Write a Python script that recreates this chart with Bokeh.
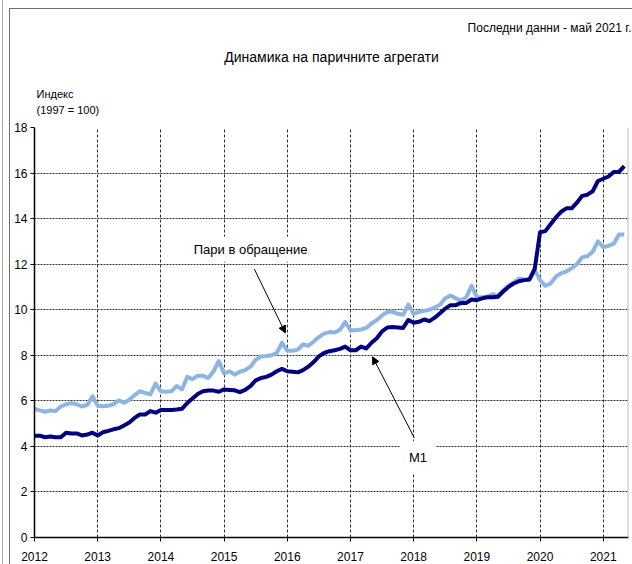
from bokeh.plotting import figure
from bokeh.models import Range1d, FixedTicker, Label, Arrow, NormalHead, Span, Title
from bokeh.embed import file_html
from bokeh.resources import INLINE

# ---- data (index, 1997 = 100), monthly Jan 2012 .. May 2021 ----
start_year = 2012
m1 = [
    4.47, 4.47, 4.40, 4.43, 4.40, 4.40, 4.60, 4.57, 4.57, 4.48, 4.52, 4.60,
    4.48, 4.62, 4.68, 4.75, 4.80, 4.92, 5.05, 5.25, 5.40, 5.40, 5.55, 5.48,
    5.60, 5.60, 5.60, 5.62, 5.65, 5.90, 6.10, 6.30, 6.42, 6.45, 6.45, 6.40,
    6.50, 6.48, 6.46, 6.38, 6.48, 6.65, 6.90, 7.00, 7.05, 7.15, 7.30, 7.40,
    7.30, 7.28, 7.25, 7.35, 7.50, 7.70, 7.95, 8.10, 8.18, 8.22, 8.28, 8.38,
    8.22, 8.22, 8.38, 8.30, 8.55, 8.75, 9.05, 9.22, 9.24, 9.22, 9.20, 9.55,
    9.43, 9.47, 9.57, 9.50, 9.65, 9.85, 10.05, 10.20, 10.20, 10.30, 10.30, 10.45,
    10.42, 10.50, 10.55, 10.55, 10.57, 10.80, 11.00, 11.15, 11.25, 11.30, 11.33, 11.80,
    13.40, 13.45, 13.75, 14.05, 14.30, 14.45, 14.45, 14.70, 15.00, 15.05, 15.20, 15.65,
    15.75, 15.85, 16.05, 16.05, 16.30,
]
currency = [
    5.65, 5.58, 5.52, 5.58, 5.55, 5.75, 5.85, 5.90, 5.85, 5.75, 5.82, 6.20,
    5.78, 5.76, 5.78, 5.85, 6.02, 5.92, 6.05, 6.25, 6.42, 6.35, 6.28, 6.76,
    6.42, 6.40, 6.42, 6.65, 6.50, 7.05, 6.95, 7.10, 7.10, 7.00, 7.30, 7.75,
    7.20, 7.30, 7.15, 7.28, 7.35, 7.50, 7.80, 7.95, 7.97, 8.00, 8.10, 8.55,
    8.20, 8.20, 8.25, 8.48, 8.42, 8.60, 8.80, 8.95, 9.02, 9.00, 9.12, 9.46,
    9.10, 9.10, 9.13, 9.20, 9.40, 9.55, 9.75, 9.90, 9.92, 9.82, 9.78, 10.22,
    9.82, 9.90, 9.95, 10.00, 10.10, 10.22, 10.50, 10.62, 10.50, 10.40, 10.55, 11.05,
    10.55, 10.55, 10.58, 10.68, 10.60, 10.85, 11.05, 11.20, 11.37, 11.33, 11.33, 11.75,
    11.30, 11.05, 11.15, 11.45, 11.60, 11.68, 11.82, 12.00, 12.30, 12.35, 12.55, 13.00,
    12.75, 12.80, 12.90, 13.30, 13.30,
]
year_ticks = [2012, 2013, 2014, 2015, 2016, 2017, 2018, 2019, 2020, 2021]
y_ticks = [0, 2, 4, 6, 8, 10, 12, 14, 16, 18]

title_text = "Динамика на паричните агрегати"
note_text = "Последни данни - май 2021 г."
unit_text = "Индекс\n(1997 = 100)"
label_currency = "Пари в обращение"
label_m1 = "M1"

x = [start_year + i / 12 for i in range(len(m1))]

FONT = "Liberation Sans"
NAVY = "#000080"
LIGHT = "#8DB4E2"
X_END = 2021.4

p = figure(width=632, height=564, output_backend="svg", toolbar_location=None,
           x_range=Range1d(2012, X_END), y_range=Range1d(0, 18),
           min_border_left=34, min_border_right=4, min_border_top=0,
           min_border_bottom=27, border_fill_color=None,
           background_fill_color="white", outline_line_color=None,
           title=" ", title_location="above")
p.styles = {
    "background-image": "linear-gradient(#707070, #707070), linear-gradient(#707070, #707070), linear-gradient(#a8a8a8, #a8a8a8)",
    "background-size": "calc(100% - 9px) 1px, 1px calc(100% - 8px), 1px 100%",
    "background-position": "9px 8px, 9px 8px, 2px 0px",
    "background-repeat": "no-repeat",
}

# top spacer (plot title slot)
p.title.text_font = FONT
p.title.text_font_size = "12px"
p.title.standoff = 0

# stacked texts above the frame (first added = nearest to the frame)
p.add_layout(Title(text=unit_text, align="left", offset=2, standoff=23,
                   text_font=FONT, text_font_size="11px", text_font_style="normal",
                   text_line_height=1.35, text_color="black"), "above")
p.add_layout(Title(text=title_text, align="center", offset=15, standoff=19,
                   text_font=FONT, text_font_size="14px", text_font_style="normal",
                   text_color="black"), "above")
p.add_layout(Title(text=note_text, align="right", offset=-3, standoff=5,
                   text_font=FONT, text_font_size="12px", text_font_style="normal",
                   text_color="black"), "above")

# grid
p.xaxis.ticker = FixedTicker(ticks=year_ticks)
p.yaxis.ticker = FixedTicker(ticks=y_ticks)
p.xgrid.grid_line_color = "#333333"
p.xgrid.grid_line_dash = "3 2"
p.xgrid.grid_line_width = 1
p.ygrid.grid_line_color = "#333333"
p.ygrid.grid_line_dash = "2 1"
p.ygrid.grid_line_width = 1

for ax in (p.xaxis, p.yaxis):
    ax.axis_line_color = "black"
    ax.axis_line_width = 1.5
    ax.major_tick_line_color = "black"
    ax.major_tick_out = 4
    ax.major_tick_in = 0
    ax.minor_tick_line_color = None
    ax.major_label_text_font = FONT
    ax.major_label_text_font_size = "12px"
    ax.major_label_text_color = "black"
p.yaxis.major_label_standoff = 3
p.xaxis.major_label_standoff = 10

p.add_layout(Span(location=X_END, dimension="height", line_color="#c0c0c0", line_width=2))

p.line(x, currency, line_color=LIGHT, line_width=4, line_join="round")
p.line(x, m1, line_color=NAVY, line_width=4, line_join="round")

# annotations with arrows
p.add_layout(Arrow(end=NormalHead(size=7, fill_color="black", line_color="black"),
                   x_start=2015.48, y_start=11.78, x_end=2015.97, y_end=8.98,
                   line_color="black", line_width=1))
p.add_layout(Arrow(end=NormalHead(size=7, fill_color="black", line_color="black"),
                   x_start=2018.01, y_start=4.38, x_end=2017.35, y_end=7.93,
                   line_color="black", line_width=1))
p.add_layout(Label(x=2015.42, y=12.66, text=label_currency, text_align="center", text_baseline="middle",
                   text_font=FONT, text_font_size="13px", text_color="black",
                   background_fill_color="white", padding=5))
p.add_layout(Label(x=2018.07, y=3.50, text=label_m1, text_align="center", text_baseline="middle",
                   text_font=FONT, text_font_size="13px", text_color="black",
                   background_fill_color="white", padding=9))

open("out.html", "w").write(file_html(p, INLINE))
